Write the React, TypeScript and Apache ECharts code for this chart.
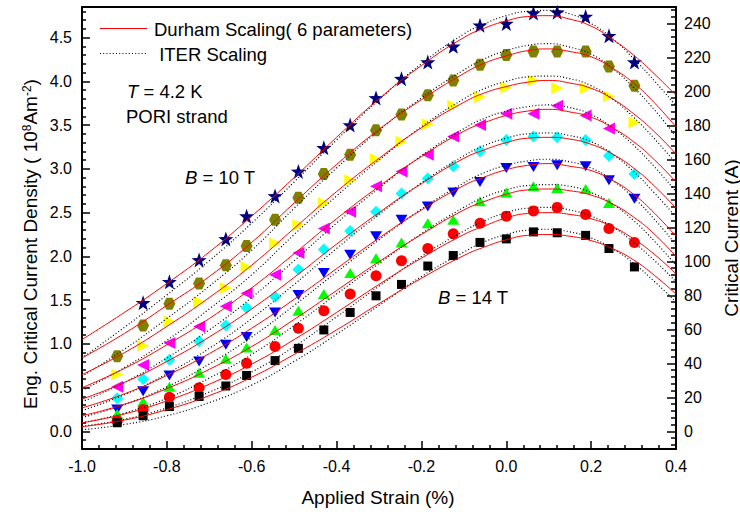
import React, { useEffect, useRef } from "react";
import * as echarts from "echarts";

const FONT = '"Liberation Sans", Arial, sans-serif';

// Measured strain positions (%)
const STRAIN = [-0.917, -0.856, -0.794, -0.724, -0.661, -0.612, -0.545, -0.49, -0.43, -0.368, -0.307, -0.247, -0.185, -0.125, -0.062, 0.0, 0.064, 0.12, 0.187, 0.242, 0.302];

// Measured Jc (10^8 A/m^2) for each field
const B10 = [null, 1.47, 1.71, 1.96, 2.2, 2.46, 2.69, 2.97, 3.24, 3.5, 3.81, 4.03, 4.22, 4.4, 4.64, 4.66, 4.78, 4.79, 4.74, 4.52, 4.22];
const B10_5 = [0.86, 1.21, 1.46, 1.69, 1.9, 2.12, 2.42, 2.67, 2.94, 3.16, 3.44, 3.62, 3.84, 4.01, 4.19, 4.3, 4.34, 4.34, 4.34, 4.17, 3.95];
const B11 = [0.65, 0.98, 1.26, 1.48, 1.64, 1.88, 2.15, 2.36, 2.61, 2.87, 3.11, 3.31, 3.51, 3.72, 3.82, 3.93, 4.01, 3.92, 3.92, 3.83, 3.53];
const B11_5 = [0.51, 0.76, 1.01, 1.2, 1.43, 1.58, 1.79, 2.04, 2.32, 2.51, 2.8, 2.97, 3.16, 3.37, 3.5, 3.63, 3.63, 3.72, 3.61, 3.46, null];
const B12 = [0.38, 0.6, 0.82, 1.03, 1.21, 1.41, 1.54, 1.85, 2.08, 2.29, 2.51, 2.72, 2.89, 3.03, 3.2, 3.33, 3.37, 3.36, 3.33, 3.15, 2.94];
const B12_5 = [0.25, 0.46, 0.64, 0.8, 0.99, 1.08, 1.36, 1.56, 1.81, 2.02, 2.23, 2.42, 2.57, 2.73, 2.85, 3.01, 3.02, 3.04, 3.03, 2.87, 2.66];
const B13 = [0.2, 0.34, 0.51, 0.67, 0.83, 0.96, 1.16, 1.38, 1.57, 1.81, 1.98, 2.16, 2.38, 2.42, 2.63, 2.73, 2.8, 2.78, 2.77, 2.61, null];
const B13_5 = [0.12, 0.25, 0.39, 0.5, 0.65, 0.78, 0.97, 1.18, 1.38, 1.57, 1.78, 1.95, 2.09, 2.26, 2.38, 2.46, 2.52, 2.56, 2.48, 2.32, 2.16];
const B14 = [0.1, 0.18, 0.285, 0.4, 0.52, 0.64, 0.81, 0.95, 1.16, 1.36, 1.55, 1.68, 1.89, 2.01, 2.16, 2.2, 2.28, 2.27, 2.24, 2.09, 1.88];

// Fitted curves, read at these strains
const CURVE_STRAIN = [-1.0, -0.9, -0.8, -0.7, -0.6, -0.5, -0.4, -0.3, -0.2, -0.1, -0.05, 0.0, 0.05, 0.1, 0.15, 0.2, 0.25, 0.3, 0.35, 0.4];

const DURHAM_B10 = [1.05, 1.36, 1.69, 2.05, 2.46, 2.9, 3.36, 3.8, 4.18, 4.5, 4.61, 4.69, 4.74, 4.75, 4.71, 4.63, 4.48, 4.3, 4.08, 3.84];
const DURHAM_B10_5 = [0.84, 1.12, 1.44, 1.77, 2.16, 2.61, 3.05, 3.45, 3.79, 4.09, 4.21, 4.29, 4.35, 4.37, 4.34, 4.28, 4.15, 3.98, 3.75, 3.48];
const DURHAM_B11 = [0.65, 0.9, 1.2, 1.53, 1.9, 2.32, 2.74, 3.12, 3.47, 3.76, 3.87, 3.94, 3.99, 4.01, 3.98, 3.92, 3.8, 3.63, 3.42, 3.17];
const DURHAM_B11_5 = [0.5, 0.72, 0.99, 1.29, 1.64, 2.03, 2.43, 2.8, 3.14, 3.43, 3.53, 3.61, 3.66, 3.68, 3.65, 3.59, 3.47, 3.31, 3.1, 2.85];
const DURHAM_B12 = [0.37, 0.56, 0.8, 1.08, 1.4, 1.76, 2.14, 2.5, 2.83, 3.12, 3.22, 3.3, 3.35, 3.36, 3.34, 3.28, 3.17, 3.01, 2.8, 2.55];
const DURHAM_B12_5 = [0.27, 0.43, 0.64, 0.89, 1.18, 1.51, 1.86, 2.21, 2.53, 2.81, 2.91, 2.99, 3.04, 3.06, 3.03, 2.98, 2.87, 2.71, 2.49, 2.23];
const DURHAM_B13 = [0.18, 0.31, 0.49, 0.71, 0.97, 1.28, 1.61, 1.94, 2.25, 2.53, 2.63, 2.71, 2.76, 2.77, 2.75, 2.7, 2.6, 2.45, 2.25, 2.0];
const DURHAM_B13_5 = [0.1, 0.2, 0.35, 0.54, 0.77, 1.05, 1.36, 1.68, 1.98, 2.25, 2.35, 2.44, 2.49, 2.5, 2.48, 2.43, 2.34, 2.2, 2.02, 1.8];
const DURHAM_B14 = [0.055, 0.13, 0.25, 0.41, 0.62, 0.88, 1.16, 1.46, 1.75, 2.01, 2.11, 2.19, 2.24, 2.25, 2.23, 2.18, 2.09, 1.96, 1.78, 1.57];

const ITER_B10 = [0.84, 1.19, 1.56, 1.95, 2.38, 2.85, 3.33, 3.79, 4.2, 4.54, 4.66, 4.75, 4.8, 4.81, 4.77, 4.66, 4.49, 4.26, 4.0, 3.72];
const ITER_B10_5 = [0.63, 0.94, 1.29, 1.66, 2.07, 2.55, 3.01, 3.44, 3.81, 4.13, 4.26, 4.35, 4.41, 4.43, 4.39, 4.31, 4.15, 3.93, 3.67, 3.37];
const ITER_B11 = [0.47, 0.73, 1.04, 1.4, 1.79, 2.25, 2.69, 3.1, 3.48, 3.8, 3.92, 4.0, 4.05, 4.06, 4.03, 3.95, 3.8, 3.59, 3.34, 3.06];
const ITER_B11_5 = [0.34, 0.56, 0.84, 1.16, 1.53, 1.95, 2.38, 2.78, 3.15, 3.46, 3.58, 3.66, 3.71, 3.73, 3.7, 3.62, 3.47, 3.27, 3.02, 2.74];
const ITER_B12 = [0.24, 0.42, 0.66, 0.95, 1.29, 1.68, 2.09, 2.48, 2.84, 3.15, 3.27, 3.35, 3.4, 3.41, 3.38, 3.31, 3.17, 2.97, 2.72, 2.45];
const ITER_B12_5 = [0.16, 0.31, 0.51, 0.77, 1.08, 1.44, 1.82, 2.19, 2.54, 2.84, 2.96, 3.04, 3.09, 3.11, 3.08, 3.01, 2.87, 2.67, 2.42, 2.13];
const ITER_B13 = [0.1, 0.21, 0.38, 0.61, 0.88, 1.21, 1.57, 1.92, 2.26, 2.56, 2.68, 2.76, 2.81, 2.82, 2.8, 2.73, 2.6, 2.41, 2.17, 1.9];
const ITER_B13_5 = [0.06, 0.14, 0.27, 0.45, 0.68, 0.97, 1.31, 1.66, 2.0, 2.29, 2.41, 2.5, 2.55, 2.56, 2.53, 2.46, 2.34, 2.16, 1.95, 1.71];
const ITER_B14 = [0.02, 0.08, 0.18, 0.33, 0.53, 0.8, 1.11, 1.44, 1.77, 2.05, 2.17, 2.25, 2.3, 2.31, 2.28, 2.21, 2.09, 1.92, 1.71, 1.48];

// Tick labels
const LEFT_TICKS = [0, 0.5, 1.0, 1.5, 2.0, 2.5, 3.0, 3.5, 4.0, 4.5];
const RIGHT_TICKS = [0, 20, 40, 60, 80, 100, 120, 140, 160, 180, 200, 220, 240];

const STAR = "path://M0,-10 L2.35,-3.24 L9.51,-3.09 L3.8,1.24 L5.88,8.09 L0,4 L-5.88,8.09 L-3.8,1.24 L-9.51,-3.09 L-2.35,-3.24 Z";
const HEX = "path://M-5,-8.66 L5,-8.66 L10,0 L5,8.66 L-5,8.66 L-10,0 Z";

const MARKERS = [
  { data: B10, symbol: STAR, size: 15, rotate: 0, color: "#000080" },
  { data: B10_5, symbol: HEX, size: 12, rotate: 0, color: "#808000" },
  { data: B11, symbol: "triangle", size: [12, 12], rotate: -90, color: "#FFFF00" },
  { data: B11_5, symbol: "triangle", size: [12, 12], rotate: 90, color: "#FF00FF" },
  { data: B12, symbol: "diamond", size: [12, 12], rotate: 0, color: "#00FFFF" },
  { data: B12_5, symbol: "triangle", size: [12, 10], rotate: 180, color: "#0000FF" },
  { data: B13, symbol: "triangle", size: [12, 10], rotate: 0, color: "#00FF00" },
  { data: B13_5, symbol: "circle", size: 11, rotate: 0, color: "#FF0000" },
  { data: B14, symbol: "rect", size: 9, rotate: 0, color: "#000000" },
];

const DURHAM = [DURHAM_B10, DURHAM_B10_5, DURHAM_B11, DURHAM_B11_5, DURHAM_B12, DURHAM_B12_5, DURHAM_B13, DURHAM_B13_5, DURHAM_B14];
const ITER = [ITER_B10, ITER_B10_5, ITER_B11, ITER_B11_5, ITER_B12, ITER_B12_5, ITER_B13, ITER_B13_5, ITER_B14];

const Y_MIN = -0.2;
const Y_MAX = 4.849;
const R_MIN = -10.34;
const R_MAX = 249.6;

function range(start: number, end: number, step: number, skipEvery: number) {
  const out: number[] = [];
  const n = Math.round((end - start) / step);
  for (let i = 0; i <= n; i++) {
    const v = +(start + i * step).toFixed(4);
    if (Math.abs(v / skipEvery - Math.round(v / skipEvery)) > 1e-6) out.push(v);
  }
  return out;
}

export default function App() {
  const ref = useRef<HTMLDivElement>(null);
  useEffect(() => {
    if (!ref.current) return;
    const chart = echarts.init(ref.current, undefined, { renderer: "svg" });

    const leftMinor = range(-0.1, 4.8, 0.1, 0.5);
    const rightMinor = range(-8, 248, 4, 20);

    const series: any[] = [];
    MARKERS.forEach((m, i) => {
      series.push({
        type: "scatter",
        name: "B" + i,
        data: STRAIN.map((x, j) => [x, m.data[j]]).filter((p) => p[1] !== null),
        symbol: m.symbol,
        symbolSize: m.size,
        symbolRotate: m.rotate,
        itemStyle: { color: m.color, opacity: 1 },
        z: 2,
      });
    });
    DURHAM.forEach((d) => {
      series.push({
        type: "line",
        name: "Durham Scaling( 6 parameters)",
        data: CURVE_STRAIN.map((x, j) => [x, d[j]]),
        smooth: 0.5,
        showSymbol: false,
        symbol: "none",
        lineStyle: { color: "#FF0000", width: 1 },
        z: 4,
      });
    });
    ITER.forEach((d) => {
      series.push({
        type: "line",
        name: "ITER Scaling",
        data: CURVE_STRAIN.map((x, j) => [x, d[j]]),
        smooth: 0.5,
        showSymbol: false,
        symbol: "none",
        lineStyle: { color: "#000000", width: 1.2, type: [1, 2.2] },
        z: 3,
      });
    });

    const labelStyle = { color: "#000", fontFamily: FONT, fontSize: 16 };

    chart.setOption({
      animation: false,
      backgroundColor: "#fff",
      grid: { left: 82, top: 7, width: 594, height: 442, containLabel: false },
      xAxis: [
        {
          type: "value",
          min: -1.0,
          max: 0.4,
          interval: 0.2,
          position: "bottom",
          axisLine: { show: true, onZero: false, lineStyle: { color: "#000", width: 2 } },
          axisTick: { show: true, inside: true, length: 8, lineStyle: { color: "#000", width: 1.5 } },
          minorTick: { show: true, splitNumber: 5, length: 4, lineStyle: { color: "#000", width: 1.5 } },
          axisLabel: { ...labelStyle, margin: 9, formatter: (v: number) => v.toFixed(1) },
          splitLine: { show: false },
          minorSplitLine: { show: false },
        },
        {
          type: "value",
          min: -1.0,
          max: 0.4,
          position: "top",
          axisLine: { show: true, onZero: false, lineStyle: { color: "#000", width: 2 } },
          axisTick: { show: false },
          axisLabel: { show: false },
          splitLine: { show: false },
        },
      ],
      yAxis: [
        {
          type: "value",
          min: Y_MIN,
          max: Y_MAX,
          position: "left",
          axisLine: { show: true, onZero: false, lineStyle: { color: "#000", width: 2 } },
          axisTick: { show: true, inside: true, length: 8, customValues: LEFT_TICKS, lineStyle: { color: "#000", width: 1.5 } },
          axisLabel: { ...labelStyle, margin: 10, customValues: LEFT_TICKS, formatter: (v: number) => v.toFixed(1) },
          splitLine: { show: false },
        },
        {
          type: "value",
          min: Y_MIN,
          max: Y_MAX,
          position: "left",
          axisLine: { show: false, onZero: false },
          axisTick: { show: true, inside: true, length: 4, customValues: leftMinor, lineStyle: { color: "#000", width: 1.5 } },
          axisLabel: { show: false },
          splitLine: { show: false },
        },
        {
          type: "value",
          min: R_MIN,
          max: R_MAX,
          position: "right",
          axisLine: { show: true, onZero: false, lineStyle: { color: "#000", width: 2 } },
          axisTick: { show: true, inside: true, length: 9, customValues: RIGHT_TICKS, lineStyle: { color: "#000", width: 1.5 } },
          axisLabel: { ...labelStyle, margin: 8, customValues: RIGHT_TICKS, formatter: (v: number) => String(Math.round(v)) },
          splitLine: { show: false },
        },
        {
          type: "value",
          min: R_MIN,
          max: R_MAX,
          position: "right",
          axisLine: { show: false, onZero: false },
          axisTick: { show: true, inside: true, length: 5, customValues: rightMinor, lineStyle: { color: "#000", width: 1.5 } },
          axisLabel: { show: false },
          splitLine: { show: false },
        },
      ],
      series,
      graphic: [
        { type: "line", shape: { x1: 100, y1: 28.5, x2: 147, y2: 28.5 }, style: { stroke: "#FF0000", lineWidth: 1 } },
        { type: "line", shape: { x1: 100, y1: 53.5, x2: 147, y2: 53.5 }, style: { stroke: "#000", lineWidth: 1.2, lineDash: [1, 2.2] } },
        {
          type: "text", x: 154, y: 29,
          style: { text: "Durham Scaling( 6 parameters)", fill: "#000", fontFamily: FONT, fontSize: 18.5, textAlign: "left", textVerticalAlign: "middle", align: "left", verticalAlign: "middle" },
        },
        {
          type: "text", x: 154, y: 54,
          style: { text: " ITER Scaling", fill: "#000", fontFamily: FONT, fontSize: 18.5, textAlign: "left", textVerticalAlign: "middle", align: "left", verticalAlign: "middle" },
        },
        {
          type: "text", x: 127, y: 91,
          style: {
            text: "{i|T} = 4.2 K", fill: "#000", fontFamily: FONT, fontSize: 18.5, textAlign: "left", textVerticalAlign: "middle", align: "left", verticalAlign: "middle",
            rich: { i: { fontStyle: "italic", fontFamily: FONT, fontSize: 18.5, fill: "#000", color: "#000" } },
          },
        },
        {
          type: "text", x: 126, y: 116.5,
          style: { text: "PORI strand", fill: "#000", fontFamily: FONT, fontSize: 18.5, textAlign: "left", textVerticalAlign: "middle", align: "left", verticalAlign: "middle" },
        },
        {
          type: "text", x: 185, y: 177,
          style: {
            text: "{i|B} = 10 T", fill: "#000", fontFamily: FONT, fontSize: 18.5, textAlign: "left", textVerticalAlign: "middle", align: "left", verticalAlign: "middle",
            rich: { i: { fontStyle: "italic", fontFamily: FONT, fontSize: 18.5, fill: "#000", color: "#000" } },
          },
        },
        {
          type: "text", x: 438, y: 297,
          style: {
            text: "{i|B} = 14 T", fill: "#000", fontFamily: FONT, fontSize: 18.5, textAlign: "left", textVerticalAlign: "middle", align: "left", verticalAlign: "middle",
            rich: { i: { fontStyle: "italic", fontFamily: FONT, fontSize: 18.5, fill: "#000", color: "#000" } },
          },
        },
        {
          type: "text", x: 378, y: 497,
          style: { text: "Applied Strain (%)", fill: "#000", fontFamily: FONT, fontSize: 19, textAlign: "center", textVerticalAlign: "middle", align: "center", verticalAlign: "middle" },
        },
        {
          type: "text", x: 30, y: 244, rotation: Math.PI / 2,
          style: {
            text: "{a|Eng. Critical Current Density ( 10}{s|8}{a|Am}{s|-2}{a|)}",
            fill: "#000", fontFamily: FONT, fontSize: 19, textAlign: "center", textVerticalAlign: "middle", align: "center", verticalAlign: "middle",
            rich: {
              a: { fontFamily: FONT, fontSize: 19, fill: "#000", color: "#000" },
              s: { fontFamily: FONT, fontSize: 12, fill: "#000", color: "#000", verticalAlign: "top" },
            },
          },
        },
        {
          type: "text", x: 731, y: 238, rotation: Math.PI / 2,
          style: { text: "Critical Current (A)", fill: "#000", fontFamily: FONT, fontSize: 19, textAlign: "center", textVerticalAlign: "middle", align: "center", verticalAlign: "middle" },
        },
      ],
    });

    return () => chart.dispose();
  }, []);

  return <div ref={ref} style={{ position: "absolute", left: 0, top: 0, width: 740, height: 516 }} />;
}
